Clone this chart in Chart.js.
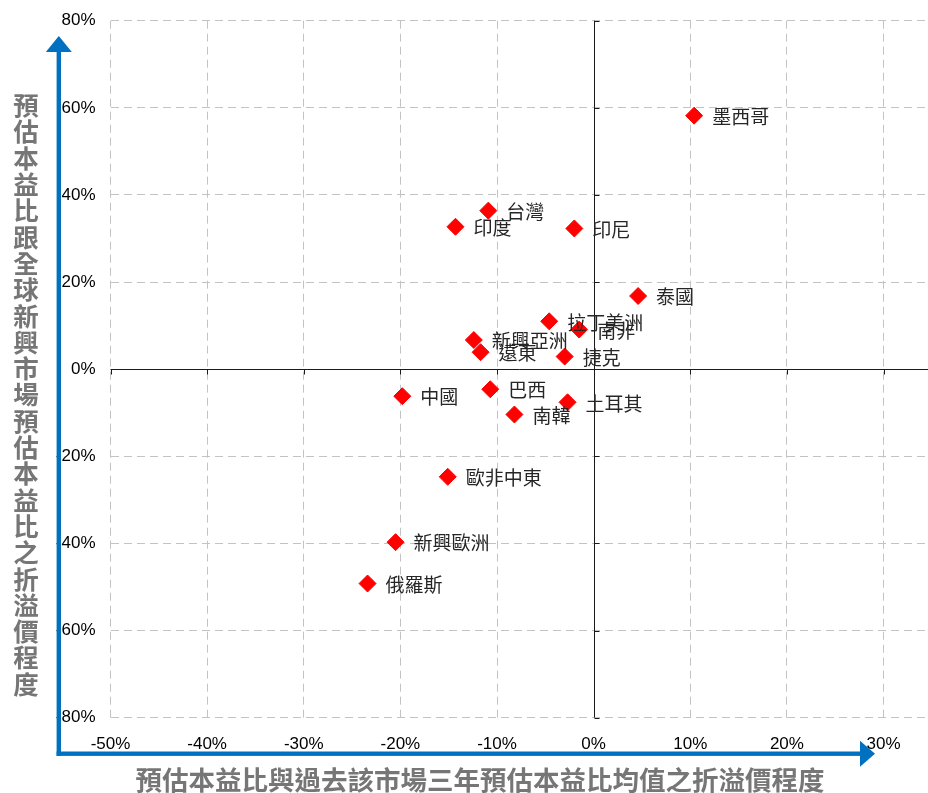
<!DOCTYPE html>
<html lang="zh-Hant">
<head>
<meta charset="utf-8">
<title>新興市場預估本益比折溢價</title>
<script src="https://cdn.jsdelivr.net/npm/chart.js@4/dist/chart.umd.min.js"></script>
<style>
  html, body { margin: 0; padding: 0; background: #ffffff; }
  #wrap { width: 928px; height: 793px; position: relative; }
</style>
</head>
<body>
<div id="wrap"><canvas id="chart" width="928" height="793"></canvas></div>
<script>
// Markets and their forward P/E premium / discount (%)
const markets = ['墨西哥', '台灣', '印度', '印尼', '泰國', '拉丁美洲', '南非', '新興亞洲', '遠東',
                 '捷克', '中國', '巴西', '土耳其', '南韓', '歐非中東', '新興歐洲', '俄羅斯'];
// vs. the market's own 3-year average forward P/E
const premiumVsHistory = [10.4, -10.9, -14.3, -2.0, 4.6, -4.6, -1.5, -12.4, -11.7,
                          -3.0, -19.8, -10.7, -2.7, -8.2, -15.1, -20.5, -23.4];
// vs. the MSCI EM forward P/E
const premiumVsEM = [58.2, 36.4, 32.7, 32.3, 16.8, 11.0, 9.1, 6.7, 3.9,
                     2.9, -6.2, -4.6, -7.6, -10.4, -24.7, -39.7, -49.2];

const xTickValues = [-50, -40, -30, -20, -10, 0, 10, 20, 30];
const yTickValues = [-80, -60, -40, -20, 0, 20, 40, 60, 80];

const xTitle = '預估本益比與過去該市場三年預估本益比均值之折溢價程度';
const yTitle = '預估本益比跟全球新興市場預估本益比之折溢價程度';

const LATIN = '"Liberation Sans", Arial, sans-serif';
const CJK = '"Noto Sans CJK TC", "Noto Sans CJK SC", sans-serif';
const ARROW_BLUE = '#0070c0';

// Solid black axes through the origin, with short tick marks
const originAxes = {
  id: 'originAxes',
  beforeDatasetsDraw(chart) {
    const { ctx, chartArea, scales: { x, y } } = chart;
    const x0 = Math.round(x.getPixelForValue(0)) + 0.5;
    const y0 = Math.round(y.getPixelForValue(0)) + 0.5;
    ctx.save();
    ctx.strokeStyle = '#1a1a1a';
    ctx.lineWidth = 1;
    ctx.beginPath();
    ctx.moveTo(x0, chartArea.top);
    ctx.lineTo(x0, chartArea.bottom);
    ctx.moveTo(chartArea.left, y0);
    ctx.lineTo(chartArea.right, y0);
    yTickValues.forEach(v => {
      const py = Math.round(y.getPixelForValue(v)) + 0.5;
      ctx.moveTo(x0, py);
      ctx.lineTo(x0 + 5, py);
    });
    xTickValues.forEach(v => {
      const px = Math.round(x.getPixelForValue(v)) + 0.5;
      ctx.moveTo(px, y0);
      ctx.lineTo(px, y0 + 5);
    });
    ctx.stroke();
    ctx.restore();
  }
};

// Market name next to each marker
const marketLabels = {
  id: 'marketLabels',
  afterDatasetsDraw(chart) {
    const { ctx } = chart;
    const meta = chart.getDatasetMeta(0);
    ctx.save();
    ctx.font = '19px ' + CJK;
    ctx.fillStyle = '#262626';
    ctx.textAlign = 'left';
    ctx.textBaseline = 'middle';
    meta.data.forEach((pt, i) => {
      ctx.fillText(markets[i], pt.x + 18, pt.y + 1);
    });
    ctx.restore();
  }
};

// Blue axis arrows and the two axis titles
const arrowsAndTitles = {
  id: 'arrowsAndTitles',
  afterDraw(chart) {
    const { ctx } = chart;
    const ax = 58.8, ay = 753.7, w = 4.4;
    ctx.save();
    ctx.fillStyle = ARROW_BLUE;
    // vertical shaft + head
    ctx.fillRect(ax - w / 2, 52, w, ay + w / 2 - 52);
    ctx.beginPath();
    ctx.moveTo(ax, 36);
    ctx.lineTo(ax - 13, 52);
    ctx.lineTo(ax + 13, 52);
    ctx.closePath();
    ctx.fill();
    // horizontal shaft + head
    ctx.fillRect(ax - w / 2, ay - w / 2, 860 - (ax - w / 2), w);
    ctx.beginPath();
    ctx.moveTo(875, ay);
    ctx.lineTo(860, ay - 13);
    ctx.lineTo(860, ay + 13);
    ctx.closePath();
    ctx.fill();

    // axis titles
    ctx.fillStyle = '#767676';
    ctx.textAlign = 'center';
    ctx.textBaseline = 'middle';
    ctx.font = 'bold 26.5px ' + CJK;
    ctx.fillText(xTitle, 480, 780);
    ctx.font = 'bold 25.5px ' + CJK;
    Array.from(yTitle).forEach((ch, i) => {
      ctx.fillText(ch, 26, 105.5 + i * 26.3);
    });
    ctx.restore();
  }
};

const gridColor = ctx => (ctx.tick && ctx.tick.value === 0) ? 'rgba(0,0,0,0)' : '#c3c3c3';

new Chart(document.getElementById('chart'), {
  type: 'scatter',
  data: {
    datasets: [{
      label: '新興市場',
      data: markets.map((m, i) => ({ x: premiumVsHistory[i], y: premiumVsEM[i] })),
      pointStyle: 'rectRot',
      pointRadius: 8.5,
      pointHoverRadius: 8.5,
      pointBackgroundColor: '#ff0000',
      pointBorderColor: '#ff0000',
      pointBorderWidth: 1
    }]
  },
  options: {
    responsive: false,
    devicePixelRatio: 1,
    animation: false,
    events: [],
    layout: { autoPadding: false, padding: { top: 20.7, right: 0, bottom: 0, left: 0 } },
    plugins: {
      legend: { display: false },
      tooltip: { enabled: false }
    },
    scales: {
      x: {
        type: 'linear',
        min: -50,
        max: 34.6,
        afterBuildTicks: scale => {
          scale.ticks = xTickValues.map(v => ({ value: v }));
        },
        afterFit: scale => {
          scale.height = 75.3;
          scale.paddingLeft = 0;
          scale.paddingRight = 0;
        },
        grid: { color: gridColor, lineWidth: 1, drawTicks: false },
        border: { display: false, dash: [8, 5] },
        ticks: {
          padding: 16,
          maxRotation: 0,
          autoSkip: false,
          color: '#000000',
          font: { family: LATIN, size: 17 },
          callback: v => v + '%'
        }
      },
      y: {
        type: 'linear',
        min: -80,
        max: 80,
        afterBuildTicks: scale => {
          scale.ticks = yTickValues.map(v => ({ value: v }));
        },
        afterFit: scale => {
          scale.width = 110.5;
          scale.paddingTop = 0;
          scale.paddingBottom = 0;
        },
        grid: { color: gridColor, lineWidth: 1, drawTicks: false },
        border: { display: false, dash: [8, 5] },
        ticks: {
          padding: 15,
          autoSkip: false,
          color: '#000000',
          font: { family: LATIN, size: 17 },
          callback: v => v + '%'
        }
      }
    }
  },
  plugins: [originAxes, marketLabels, arrowsAndTitles]
});
</script>
</body>
</html>
